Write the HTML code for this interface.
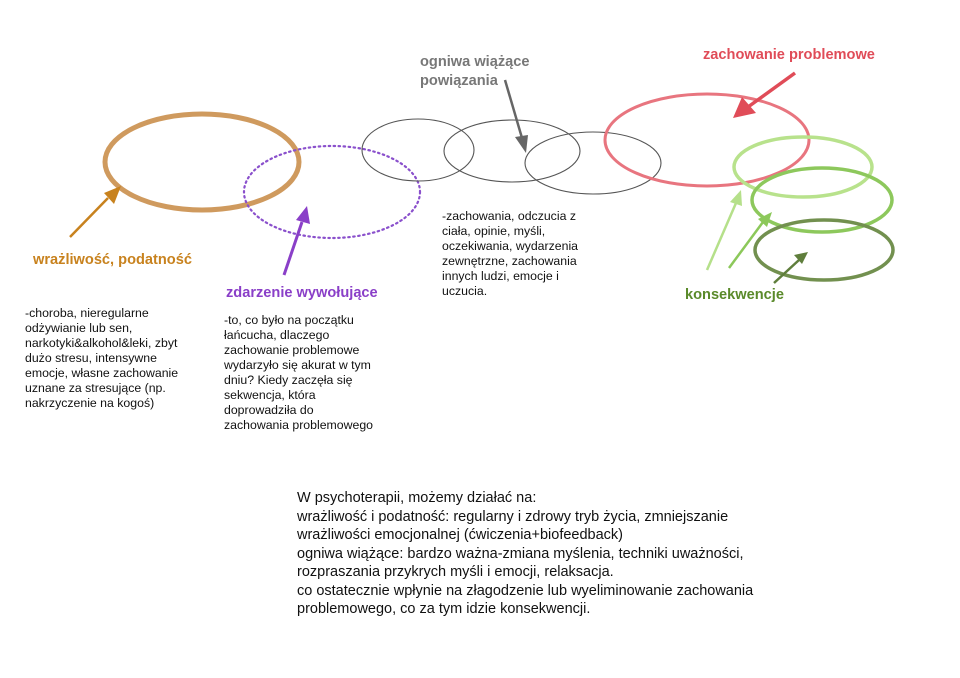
<!DOCTYPE html><html><head><meta charset="utf-8"><style>
body{margin:0;width:960px;height:678px;background:#fff;position:relative;font-family:"Liberation Sans",sans-serif;overflow:hidden}
.t{position:absolute;white-space:nowrap}
.h{font-weight:bold;font-size:14.6px}
.b{font-size:12.3px;line-height:15px;color:#111}
</style></head><body>
<svg width="960" height="678" style="position:absolute;left:0;top:0">
<ellipse cx="202" cy="162" rx="97" ry="48" fill="none" stroke="#cf9a5e" stroke-width="5"/>
<ellipse cx="332" cy="192" rx="88" ry="46" fill="none" stroke="#8a50cc" stroke-width="2.2" stroke-dasharray="1.5 3.5" stroke-linecap="round"/>
<g fill="none" stroke="#555" stroke-width="1.1">
<ellipse cx="418" cy="150" rx="56" ry="31"/>
<ellipse cx="512" cy="151" rx="68" ry="31"/>
<ellipse cx="593" cy="163" rx="68" ry="31"/>
</g>
<ellipse cx="707" cy="140" rx="102" ry="46" fill="none" stroke="#e8757f" stroke-width="3"/>
<ellipse cx="803" cy="167" rx="69" ry="30" fill="none" stroke="#b8e28c" stroke-width="3.5"/>
<ellipse cx="822" cy="200" rx="70" ry="32" fill="none" stroke="#8dc85c" stroke-width="3.5"/>
<ellipse cx="824" cy="250" rx="69" ry="30" fill="none" stroke="#72904f" stroke-width="3.5"/>
<g stroke-width="2.5">
<line x1="70" y1="237" x2="108" y2="198" stroke="#c8821e"/>
<polygon points="121,186 104,193 114,204" fill="#c8821e"/>
<line x1="284" y1="275" x2="302" y2="222" stroke="#8a3fc8" stroke-width="3"/>
<polygon points="307,206 296,220 310,224" fill="#8a3fc8"/>
<line x1="505" y1="80" x2="522" y2="138" stroke="#666"/>
<polygon points="526,153 515,137 528,135" fill="#666"/>
<line x1="795" y1="73" x2="748" y2="107" stroke="#e04c58" stroke-width="3.5"/>
<polygon points="733,118 742,97 756,113" fill="#e04c58"/>
<line x1="707" y1="270" x2="736" y2="203" stroke="#b5e08a"/>
<polygon points="741,190 730,202 742,206" fill="#b5e08a"/>
<line x1="729" y1="268" x2="763" y2="222" stroke="#8cc85a"/>
<polygon points="772,212 758,219 767,227" fill="#8cc85a"/>
<line x1="774" y1="283" x2="799" y2="260" stroke="#5f7e3c"/>
<polygon points="808,252 794,255 802,264" fill="#5f7e3c"/>
</g>
</svg>
<div class="t h" style="left:33px;top:252px;color:#c8821e">wrażliwość, podatność</div>
<div class="t h" style="left:226px;top:285px;color:#8a3fc8">zdarzenie wywołujące</div>
<div class="t h" style="left:420px;top:53px;color:#777;line-height:19px">ogniwa wiążące<br>powiązania</div>
<div class="t h" style="left:703px;top:47px;color:#e04c58">zachowanie problemowe</div>
<div class="t h" style="left:685px;top:287px;color:#5a8a2a">konsekwencje</div>
<div class="t b" style="left:25px;top:306px">-choroba, nieregularne<br>odżywianie lub sen,<br>narkotyki&amp;alkohol&amp;leki, zbyt<br>dużo stresu, intensywne<br>emocje, własne zachowanie<br>uznane za stresujące (np.<br>nakrzyczenie na kogoś)</div>
<div class="t b" style="left:224px;top:313px">-to, co było na początku<br>łańcucha, dlaczego<br>zachowanie problemowe<br>wydarzyło się akurat w tym<br>dniu? Kiedy zaczęła się<br>sekwencja, która<br>doprowadziła do<br>zachowania problemowego</div>
<div class="t b" style="left:442px;top:209px">-zachowania, odczucia z<br>ciała, opinie, myśli,<br>oczekiwania, wydarzenia<br>zewnętrzne, zachowania<br>innych ludzi, emocje i<br>uczucia.</div>
<div class="t" style="left:297px;top:489px;font-size:14.5px;line-height:18.5px;color:#111">W psychoterapii, możemy działać na:<br>wrażliwość i podatność: regularny i zdrowy tryb życia, zmniejszanie<br>wrażliwości emocjonalnej (ćwiczenia+biofeedback)<br>ogniwa wiążące: bardzo ważna-zmiana myślenia, techniki uważności,<br>rozpraszania przykrych myśli i emocji, relaksacja.<br>co ostatecznie wpłynie na złagodzenie lub wyeliminowanie zachowania<br>problemowego, co za tym idzie konsekwencji.</div>
</body></html>
